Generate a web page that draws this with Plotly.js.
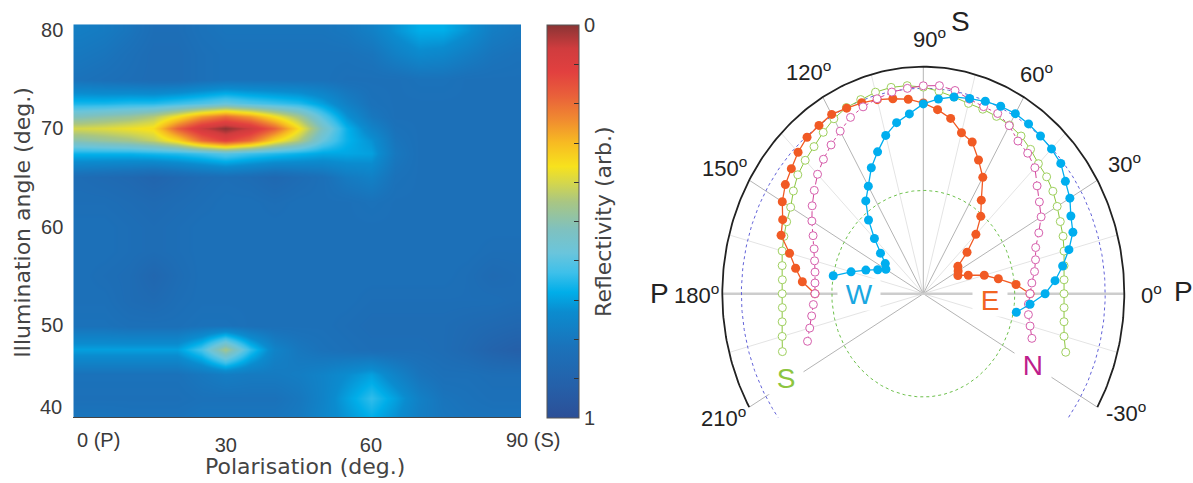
<!DOCTYPE html>
<html>
<head>
<meta charset="utf-8">
<script src="https://cdn.plot.ly/plotly-3.0.1.min.js"></script>
<style>
html,body{margin:0;padding:0;background:#ffffff;}
#chart{width:1193px;height:483px;}
</style>
</head>
<body>
<div id="chart"></div>
<script>
// ---------------- Left panel: reflectivity map ----------------
const polarisationDeg = [0,5,10,15,20,25,30,35,40,45,50,55,60,65,70,75,80,85,90];
const illuminationDeg = [40,42.5,45,47.5,50,52.5,55,57.5,60,62.5,65,67.5,68.75,70,71.25,72.5,75,77.5,80];
// reflectivity (arb., 0..1), one row per illumination angle, one column per polarisation
const reflectivity = [
  [.80,.80,.81,.81,.81,.80,.80,.80,.80,.79,.75,.72,.69,.73,.78,.80,.81,.81,.81],
  [.83,.83,.83,.83,.83,.82,.82,.82,.82,.80,.76,.70,.64,.70,.77,.81,.82,.83,.83],
  [.82,.82,.82,.82,.82,.80,.78,.79,.79,.78,.76,.73,.70,.76,.81,.83,.83,.84,.84],
  [.70,.70,.70,.70,.70,.62,.46,.64,.76,.80,.82,.83,.84,.84,.84,.85,.87,.90,.92],
  [.82,.82,.83,.83,.83,.82,.82,.83,.83,.83,.83,.84,.85,.85,.85,.85,.86,.87,.88],
  [.83,.83,.85,.86,.84,.83,.83,.83,.83,.83,.83,.83,.84,.84,.84,.84,.84,.84,.85],
  [.83,.84,.85,.88,.85,.83,.83,.83,.83,.83,.83,.83,.83,.83,.83,.83,.84,.86,.85],
  [.83,.83,.84,.85,.84,.83,.83,.83,.83,.83,.83,.83,.83,.83,.83,.83,.83,.84,.84],
  [.83,.83,.84,.85,.84,.83,.83,.83,.83,.83,.83,.83,.83,.83,.83,.83,.83,.83,.83],
  [.84,.84,.85,.86,.85,.84,.83,.83,.84,.83,.83,.83,.82,.83,.83,.83,.83,.83,.83],
  [.85,.86,.87,.89,.87,.85,.84,.85,.87,.85,.83,.79,.77,.82,.83,.83,.83,.83,.83],
  [.67,.67,.67,.66,.65,.63,.60,.63,.65,.67,.69,.69,.70,.80,.83,.83,.83,.83,.83],
  [.50,.48,.46,.42,.34,.20,.12,.20,.34,.44,.58,.67,.72,.81,.83,.83,.83,.83,.83],
  [.40,.39,.37,.35,.18,.06,.00,.06,.18,.35,.53,.67,.76,.82,.83,.83,.83,.83,.83],
  [.52,.50,.48,.44,.36,.26,.20,.26,.36,.46,.60,.72,.80,.83,.83,.83,.83,.83,.83],
  [.66,.66,.65,.65,.63,.61,.58,.61,.63,.65,.70,.77,.82,.83,.83,.83,.83,.83,.83],
  [.82,.83,.84,.85,.85,.83,.82,.82,.82,.82,.82,.83,.83,.83,.82,.82,.83,.83,.83],
  [.80,.81,.83,.85,.85,.83,.82,.82,.82,.82,.82,.82,.81,.77,.74,.75,.78,.81,.82],
  [.78,.79,.81,.84,.84,.82,.81,.81,.81,.81,.81,.80,.77,.72,.68,.68,.72,.78,.80]
];
const xTickVals = [30,60];
const xTickText = ['30','60'];
const yTickVals = [50,60,70,80];
const yTickText = ['50','60','70','80'];

// ---------------- Right panel: polar plot ----------------
const thetaW = [170,165,160,155,150,145,140,135,130,125,120,115,110,105,100,95,90,85,80,75,70,65,60,55,50,45,40,35,30,25,20,15,10,5,0,-5,-10];
const rW = [.455,.372,.304,.250,.215,.231,.278,.344,.424,.499,.547,.612,.665,.722,.765,.795,.836,.861,.880,.890,.902,.911,.916,.913,.907,.902,.893,.863,.842,.810,.792,.750,.704,.658,.606,.533,.470];
const thetaE = [0,5,10,15,20,25,30,35,40,45,50,55,60,65,70,75,80,85,90,95,100,105,110,115,120,125,130,135,140,145,150,155,160,165,170,175,180];
const rE = [.531,.463,.379,.314,.238,.190,.200,.210,.284,.370,.445,.503,.592,.650,.711,.734,.784,.814,.840,.860,.872,.885,.895,.902,.912,.905,.900,.881,.857,.838,.810,.772,.753,.689,.645,.604,.539];
const thetaSN = [-20,-15,-10,-5,0,5,10,15,20,25,30,35,40,45,50,55,60,65,70,75,80,85,90,95,100,105,110,115,120,125,130,135,140,145,150,155,160,165,170,175,180,185,190,195,200];
const rS = [.754,.725,.711,.703,.700,.703,.711,.725,.740,.752,.769,.787,.801,.810,.830,.848,.858,.862,.865,.868,.880,.895,.910,.920,.923,.919,.910,.905,.890,.868,.846,.831,.815,.789,.762,.750,.738,.727,.713,.704,.702,.704,.713,.727,.746];
const rN = [.575,.550,.531,.525,.531,.542,.562,.578,.595,.634,.677,.705,.739,.785,.808,.821,.855,.876,.877,.887,.909,.920,.916,.908,.902,.889,.876,.857,.827,.800,.773,.744,.708,.675,.640,.605,.578,.560,.547,.541,.539,.549,.564,.585,.613];

const angleTicks = [-30,0,30,60,90,120,150,180,210];
const majorSpokes = [-30,30,60,90,120,150,210];
const minorSpokes = [-15,15,45,75,105,135,165,195];
const sectorStart = -30, sectorEnd = 210;

// ---------------- helpers ----------------
const D = Math.PI/180;
function toXY(th, r){
  return {x: th.map((t,i)=> r[i]*Math.cos(t*D)), y: th.map((t,i)=> r[i]*Math.sin(t*D))};
}
function spokes(angles, r0, r1){
  const x=[], y=[];
  angles.forEach(a=>{ x.push(r0*Math.cos(a*D), r1*Math.cos(a*D), null); y.push(r0*Math.sin(a*D), r1*Math.sin(a*D), null); });
  return {x, y};
}
function arc(r, a0, a1){
  const th=[], rr=[];
  for(let a=a0; a<=a1+1e-9; a+=1){ th.push(a); rr.push(r); }
  return toXY(th, rr);
}

const tickFont = {family:'Liberation Sans, Arial, sans-serif', size:20, color:'#3a3a3a'};
const titleFont = {family:'DejaVu Sans, Verdana, sans-serif', size:22, color:'#444444'};
const polFont = {family:'Liberation Sans, Arial, sans-serif', size:22, color:'#222222'};

// colour map: index 0 = reflectivity 1 (blue), 1 = reflectivity 0 (dark red)
const colorscale = [
  [0,'#2c4f97'],[0.08,'#2560a9'],[0.18,'#1b72ba'],[0.27,'#0b8ccf'],[0.32,'#00aee9'],
  [0.37,'#3ec0ea'],[0.42,'#6ac5dc'],[0.48,'#7fc1bf'],[0.55,'#a9c683'],[0.60,'#d6d74a'],
  [0.64,'#f7e21d'],[0.70,'#f7bb22'],[0.76,'#f08a30'],[0.82,'#e9603a'],[0.88,'#e2403f'],
  [0.94,'#d03c3e'],[1,'#8a3434']
];

const traces = [];
traces.push({
  type:'heatmap', x: polarisationDeg, y: illuminationDeg,
  z: reflectivity.map(row=>row.map(v=>1-v)),
  zmin:0, zmax:1, zsmooth:'best', colorscale: colorscale,
  xaxis:'x', yaxis:'y', hoverinfo:'skip',
  colorbar:{
    x: 547.3/1193, xanchor:'left', xpad:0, ypad:0,
    y: 1-221.65/483, yanchor:'middle',
    len: 393, lenmode:'pixels', thickness: 32, thicknessmode:'pixels',
    outlinewidth:1, outlinecolor:'#555555',
    tickmode:'linear', tick0:0, dtick:0.1, ticklabelstep:10,
    labelalias:{'0':'1','1':'0'},
    ticks:'inside', ticklen:5, tickcolor:'#333333', tickwidth:1,
    tickfont: tickFont,
    title:{text:'Reflectivity (arb.)', side:'right', font: titleFont}
  }
});

// polar decorations
const mn = spokes(minorSpokes, 0, 1);
traces.push({type:'scatter', mode:'lines', x:mn.x, y:mn.y, xaxis:'x2', yaxis:'y2', line:{color:'#e4e4e4', width:1}, hoverinfo:'skip', showlegend:false});
const mj = spokes(majorSpokes, 0, 1);
traces.push({type:'scatter', mode:'lines', x:mj.x, y:mj.y, xaxis:'x2', yaxis:'y2', line:{color:'#b4b4b4', width:1}, hoverinfo:'skip', showlegend:false});
const hz = spokes([0,180], 0, 1);
traces.push({type:'scatter', mode:'lines', x:hz.x, y:hz.y, xaxis:'x2', yaxis:'y2', line:{color:'#cdcdcd', width:2.5}, hoverinfo:'skip', showlegend:false});
const bd = arc(0.905, -37, 217);
traces.push({type:'scatter', mode:'lines', x:bd.x, y:bd.y, xaxis:'x2', yaxis:'y2', line:{color:'#6262d8', width:1, dash:'dot'}, hoverinfo:'skip', showlegend:false});
const gc = arc(0.455, 0, 360);
traces.push({type:'scatter', mode:'lines', x:gc.x, y:gc.y, xaxis:'x2', yaxis:'y2', line:{color:'#6cc04a', width:1, dash:'dot'}, hoverinfo:'skip', showlegend:false});
const oa = arc(1, sectorStart, sectorEnd);
traces.push({type:'scatter', mode:'lines', x:oa.x, y:oa.y, xaxis:'x2', yaxis:'y2', line:{color:'#222222', width:1.8}, hoverinfo:'skip', showlegend:false});

// data series
const pS = toXY(thetaSN, rS);
traces.push({type:'scatter', mode:'lines+markers', name:'S', x:pS.x, y:pS.y, xaxis:'x2', yaxis:'y2',
  line:{color:'#8cc63f', width:1}, marker:{symbol:'circle', size:8, color:'#ffffff', line:{color:'#9fd05f', width:1}}, showlegend:false});
const pE = toXY(thetaE, rE);
traces.push({type:'scatter', mode:'lines+markers', name:'E', x:pE.x, y:pE.y, xaxis:'x2', yaxis:'y2',
  line:{color:'#f15a24', width:1.3}, marker:{symbol:'circle', size:9, color:'#f15a24'}, showlegend:false});
const pN = toXY(thetaSN, rN);
traces.push({type:'scatter', mode:'lines+markers', name:'N', x:pN.x, y:pN.y, xaxis:'x2', yaxis:'y2',
  line:{color:'#d2449a', width:1, dash:'dashdot'}, marker:{symbol:'circle', size:8, color:'#ffffff', line:{color:'#d65fad', width:1}}, showlegend:false});
const pW = toXY(thetaW, rW);
traces.push({type:'scatter', mode:'lines+markers', name:'W', x:pW.x, y:pW.y, xaxis:'x2', yaxis:'y2',
  line:{color:'#00aeef', width:1.3}, marker:{symbol:'circle', size:9, color:'#00aeef'}, showlegend:false});

// annotations
const annotations = [];
annotations.push({xref:'paper', yref:'paper', x:305/1193, y:1-466/483, xanchor:'center', yanchor:'middle', text:'Polarisation (deg.)', showarrow:false, font:titleFont});
annotations.push({xref:'paper', yref:'paper', x:21.7/1193, y:1-223/483, xanchor:'center', yanchor:'middle', text:'Illumination angle (deg.)', textangle:-90, showarrow:false, font:titleFont});
annotations.push({xref:'x', yref:'paper', x:0, xshift:-6, y:1-440/483, xanchor:'left', yanchor:'middle', text:'0 (P)', showarrow:false, font:tickFont});
annotations.push({xref:'x', yref:'paper', x:90, xshift:-12, y:1-440/483, xanchor:'left', yanchor:'middle', text:'90 (S)', showarrow:false, font:tickFont});
annotations.push({xref:'paper', yref:'paper', x:64/1193, y:1-406.7/483, xanchor:'right', yanchor:'middle', text:'40', showarrow:false, font:tickFont});

// polar angle labels
const angleLabelTheta = [-27.3,0,29.9,59.9,88.4,120.1,150.6,180,208.7];
const angleLabelR = [1.134,1.133,1.153,1.126,1.125,1.135,1.134,1.126,1.134];
angleTicks.forEach((a,i)=>{
  const t = angleLabelTheta[i]*D, r = angleLabelR[i];
  annotations.push({xref:'x2', yref:'y2', x:r*Math.cos(t), y:r*Math.sin(t), xanchor:'center', yanchor:'middle',
    text: a + '<sup>o</sup>', showarrow:false, font:polFont});
});
function polAnn(th, r, text, font, bg){
  const a = {xref:'x2', yref:'y2', x:r*Math.cos(th*D), y:r*Math.sin(th*D), xanchor:'center', yanchor:'middle', text:text, showarrow:false, font:font, borderpad:0};
  if(bg) a.bgcolor = bg;
  return a;
}
const bigFont = {family:'Liberation Sans, Arial, sans-serif', size:28, color:'#222222'};
annotations.push(polAnn(81.3, 1.212, 'S', bigFont));
annotations.push(polAnn(0.4, 1.294, 'P', bigFont));
annotations.push(polAnn(180, 1.314, 'P', bigFont));
const dirFont = c => ({family:'Liberation Sans, Arial, sans-serif', size:28, color:c});
annotations.push(polAnn(181, 0.32, '\u00a0W\u00a0', dirFont('#1aa7e1'), '#ffffff'));
annotations.push(polAnn(-4.8, 0.333, '\u00a0E\u00a0', dirFont('#f26522'), '#ffffff'));
annotations.push(polAnn(208.6, 0.778, '\u00a0S\u00a0', dirFont('#8dc540'), '#ffffff'));
annotations.push(polAnn(-29.9, 0.631, '\u00a0N\u00a0', dirFont('#be1e8c'), '#ffffff'));

const layout = {
  width:1193, height:483,
  margin:{l:0, r:0, t:0, b:0},
  paper_bgcolor:'#ffffff', plot_bgcolor:'#ffffff',
  showlegend:false,
  xaxis:{domain:[73.3/1193, 521/1193], range:[-1.5, 91], tickvals:xTickVals, ticktext:xTickText, ticks:'',
    tickfont:tickFont, ticklabelstandoff:10, showgrid:false, zeroline:false, showline:true, linecolor:'#444444', linewidth:1, fixedrange:true},
  yaxis:{domain:[1-417.3/483, 1-24.3/483], range:[40.6, 80.58], tickvals:yTickVals, ticktext:yTickText, ticks:'',
    tickfont:tickFont, ticklabelstandoff:9, showgrid:false, zeroline:false, showline:false, fixedrange:true},
  xaxis2:{domain:[653.96/1193, 1190.63/1193], range:[-1.34, 1.33], visible:false, fixedrange:true, anchor:'y2'},
  yaxis2:{domain:[1-463.95/483, 1-3.14/483], range:[-0.75, 1.28], visible:false, fixedrange:true, anchor:'x2'},
  annotations: annotations
};

Plotly.newPlot('chart', traces, layout, {displayModeBar:false, staticPlot:true});
</script>
</body>
</html>
